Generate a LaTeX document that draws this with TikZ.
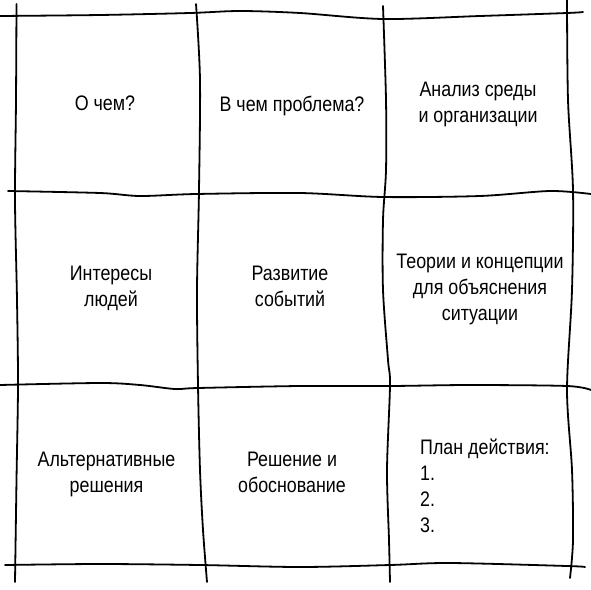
\documentclass[tikz,border=0pt]{standalone}
\usepackage{fontspec}
\setmainfont[FakeStretch=0.85]{Liberation Sans}

\tikzset{
  grid line/.style={
    draw,
    line width=1.8pt,
    line cap=round,
  },
  cell label/.style={
    align=center,
    inner sep=0pt,
    font=\fontsize{21}{26}\selectfont,
  },
  plan label/.style={
    cell label,
    align=left,
    anchor=west,
  },
}

\begin{document}
\begin{tikzpicture}[x=1pt,y=-1pt]
  \useasboundingbox (0,0) rectangle (591,589);
  % horizontal strokes
  \draw[grid line] plot[smooth] coordinates {(0,16) (100,15) (190,13) (240,11) (300,13) (383,19) (480,16) (567,13) (583,12)};
  \draw[grid line] plot[smooth] coordinates {(8,191) (100,193) (140,196) (196,194) (300,193) (383,197) (480,196) (550,191) (591,194)};
  \draw[grid line] plot[smooth] coordinates {(0,385) (100,383) (140,385) (175,389) (198,388) (300,386) (390,386) (470,385) (567,386) (591,390)};
  \draw[grid line] plot[smooth] coordinates {(5,565) (100,564) (200,565) (300,567) (390,565) (450,563) (567,566) (585,567)};
  % vertical strokes
  \draw[grid line] plot[smooth] coordinates {(16.5,4) (16,100) (15,200) (17,300) (18,385) (16.5,480) (15,582)};
  \draw[grid line] plot[smooth] coordinates {(196,4) (200,80) (199,190) (197,290) (198,385) (200,470) (203,530) (207,582)};
  \draw[grid line] plot[smooth] coordinates {(383,6) (386,100) (386,170) (383,220) (383,290) (388,360) (390,385) (387,470) (389,540) (390,582)};
  \draw[grid line] plot[smooth] coordinates {(567,0) (568,100) (573,190) (572,290) (567,390) (572,470) (573,540) (570,578)};
  % cell texts
  \node[cell label] (about)        at (105,103.5) {О чем?};
  \node[cell label] (problem)      at (292,105.7) {В чем проблема?};
  \node[cell label] (context)      at (478,104)   {Анализ среды\\и организации};
  \node[cell label] (interests)    at (111,288.5) {Интересы\\людей};
  \node[cell label] (events)       at (290,286.5) {Развитие\\событий};
  \node[cell label] (theories)     at (480,289)   {Теории и концепции\\для объяснения\\ситуации};
  \node[cell label] (alternatives) at (106.5,474.5) {Альтернативные\\решения};
  \node[cell label] (decision)     at (292,472.5) {Решение и\\обоснование};
  \node[plan label] (plan)         at (420,485.5) {План действия:\\1.\\2.\\3.};
\end{tikzpicture}
\end{document}
